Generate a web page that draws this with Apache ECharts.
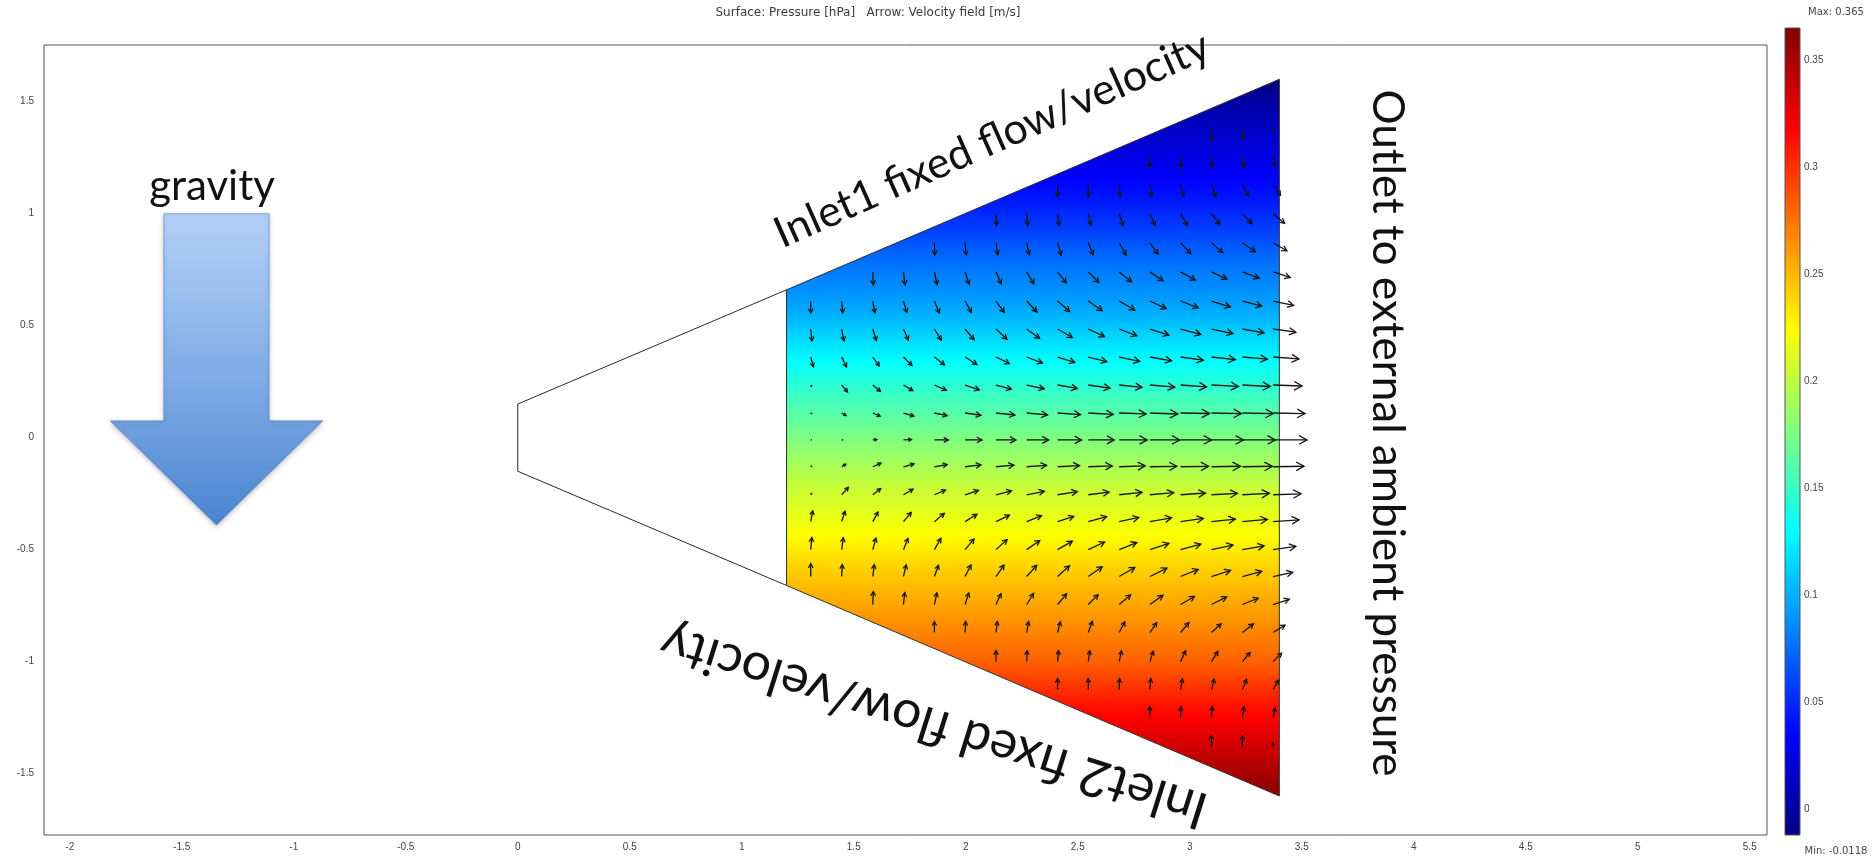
<!DOCTYPE html>
<html><head><meta charset="utf-8">
<script src="https://cdn.jsdelivr.net/npm/echarts@6/dist/echarts.min.js"></script>
<style>html,body{margin:0;padding:0;background:#fff;}#c{width:1875px;height:859px;}</style>
</head><body><div id="c"></div>
<script>
// ================= DATA =================
const titleText = 'Surface: Pressure [hPa]   Arrow: Velocity field [m/s]';
const xTickValues = [-2, -1.5, -1, -0.5, 0, 0.5, 1, 1.5, 2, 2.5, 3, 3.5, 4, 4.5, 5, 5.5];
const yTickValues = [-1.5, -1, -0.5, 0, 0.5, 1, 1.5];
const colorbarTicks = [0, 0.05, 0.1, 0.15, 0.2, 0.25, 0.3, 0.35];
const pressureMin = -0.0118;
const pressureMax = 0.365;

// nozzle geometry: stations along x and half-height of the channel there
const nozzleX = [0, 1.2, 3.4];
const nozzleHalfH = [0.15, 0.66, 1.6];

// pressure profile across the height
const profileY = [1.6, 1.4, 1.2, 1.0, 0.8, 0.6, 0.4, 0.2, 0.0, -0.2, -0.4, -0.6, -0.8, -1.0, -1.2, -1.4, -1.6];
const profileP = [-0.011, 0.012, 0.030, 0.050, 0.075, 0.094, 0.121, 0.150, 0.176, 0.201, 0.220, 0.242, 0.262, 0.282, 0.312, 0.338, 0.363];

// arrow grid
const arrowColX = [1.308, 1.446, 1.585, 1.722, 1.860, 1.997, 2.135, 2.272, 2.410, 2.547, 2.685, 2.822, 2.959, 3.097, 3.235, 3.372];
const arrowRowY = [1.385, 1.26, 1.13, 1.0, 0.87, 0.74, 0.61, 0.485, 0.36, 0.235, 0.11, -0.01, -0.13, -0.255, -0.375, -0.5, -0.62, -0.745, -0.87, -1.0, -1.125, -1.25, -1.38];
const arrowRowStart = [13, 11, 8, 6, 4, 2, 0, 0, 0, 0, 0, 0, 0, 0, 0, 0, 0, 2, 4, 6, 8, 11, 13];
// direction (deg, counter-clockwise from +x) per row
const arrowAngle = [
  [-90, -88, -85],
  [-90, -89, -86, -82, -78],
  [-90, -89, -86, -80, -75, -70, -62, -55],
  [-88, -85, -82, -77, -72, -66, -60, -53, -46, -40],
  [-88, -85, -82, -78, -74, -68, -61, -54, -47, -41, -35, -30],
  [-88, -83, -78, -72, -66, -59, -52, -45, -39, -34, -29, -25, -21, -18],
  [-90, -85, -80, -74, -68, -61, -54, -47, -41, -35, -30, -25, -21, -18, -15, -12],
  [-84, -79, -73, -66, -58, -50, -43, -36, -30, -25, -21, -18, -15, -12, -10, -8],
  [-75, -64, -54, -45, -38, -32, -26, -21, -17, -14, -12, -10, -8, -6, -5, -4],
  [-60, -50, -40, -31, -24, -19, -15, -12, -10, -8, -6, -5, -4, -3, -3, -2],
  [-40, -30, -24, -17, -12, -8, -6, -5, -4, -3, -2, -2, -1, -1, -1, -1],
  [0, 0, 5, 2, 0, 0, 0, 0, 0, 0, 0, 0, 0, 0, 0, 0],
  [40, 32, 24, 15, 10, 7, 5, 4, 3, 2, 2, 1, 1, 1, 1, 1],
  [60, 48, 38, 30, 23, 18, 14, 11, 9, 7, 6, 5, 4, 3, 3, 2],
  [80, 72, 62, 50, 40, 32, 26, 22, 18, 15, 12, 10, 8, 6, 5, 4],
  [85, 82, 75, 68, 60, 50, 42, 35, 30, 25, 22, 18, 15, 12, 10, 8],
  [90, 87, 83, 77, 70, 63, 55, 48, 42, 35, 30, 26, 22, 18, 15, 12],
  [88, 84, 78, 72, 65, 58, 50, 45, 40, 35, 30, 27, 22, 18],
  [90, 87, 83, 80, 75, 70, 62, 55, 50, 42, 38, 32],
  [90, 88, 85, 82, 78, 72, 65, 58, 50, 45],
  [90, 90, 88, 85, 80, 75, 68, 60],
  [90, 88, 86, 82, 78],
  [90, 90, 90]
];
// speed per row (relative velocity magnitude)
const arrowSpeed = [
  [13, 12, 3],
  [12, 12, 12, 12, 11],
  [12, 12, 12, 12, 12, 13, 13, 13],
  [12, 12, 12, 12, 13, 13, 14, 14, 14, 15],
  [12, 12, 12, 12, 13, 13, 14, 14, 15, 15, 16, 16],
  [13, 13, 13, 13, 13, 14, 14, 15, 16, 16, 17, 17, 18, 18],
  [12, 12, 12, 12, 13, 13, 14, 15, 16, 17, 18, 18, 19, 20, 20, 21],
  [12, 12, 12, 12, 13, 14, 15, 16, 17, 18, 19, 20, 21, 22, 22, 23],
  [10, 11, 11, 12, 13, 14, 15, 17, 18, 19, 21, 22, 23, 24, 25, 26],
  [2, 9, 10, 11, 13, 15, 16, 18, 20, 22, 23, 25, 26, 27, 28, 29],
  [1.5, 5, 8, 11, 13, 16, 19, 21, 23, 25, 27, 28, 29, 30, 31, 32],
  [1, 1.5, 4, 8, 14, 17, 20, 22, 24, 26, 28, 30, 31, 32, 33, 34],
  [1.5, 5, 9, 11, 13, 16, 18, 20, 22, 24, 26, 27, 28, 29, 30, 31],
  [2, 10, 10, 11, 12, 14, 16, 18, 20, 21, 23, 24, 25, 26, 27, 28],
  [11, 11, 11, 12, 13, 14, 15, 16, 17, 19, 20, 22, 23, 24, 25, 26],
  [12, 12, 12, 12, 13, 14, 15, 16, 17, 18, 19, 20, 21, 22, 22, 23],
  [13, 12, 12, 12, 12, 13, 14, 15, 16, 17, 18, 19, 19, 20, 20, 20],
  [13, 12, 12, 12, 12, 13, 14, 14, 15, 16, 16, 17, 17, 17],
  [11, 11, 11, 11, 11, 12, 12, 12, 13, 13, 14, 14],
  [11, 11, 11, 11, 11, 11, 12, 12, 12, 12],
  [11, 11, 11, 11, 11, 11, 11, 11],
  [11, 11, 11, 11, 10],
  [11, 11, 4]
];

// gravity block arrow outline
const gravityX = [-1.58, -1.11, -1.11, -0.87, -1.345, -1.82, -1.58];
const gravityY = [1.0, 1.0, 0.075, 0.075, -0.39, 0.075, 0.075];

// ================= STYLE / HELPERS =================
const ARROW_SCALE = 1 / 224;   // axis units per speed unit
function clamp01(v) { return Math.max(0, Math.min(1, v)); }
function jet(t) {
  t = clamp01(t);
  const r = clamp01(Math.min(4 * t - 1.5, -4 * t + 4.5));
  const g = clamp01(Math.min(4 * t - 0.5, -4 * t + 3.5));
  const b = clamp01(Math.min(4 * t + 0.5, -4 * t + 2.5));
  return 'rgb(' + Math.round(r * 255) + ',' + Math.round(g * 255) + ',' + Math.round(b * 255) + ')';
}
function pToT(p) { return (p - pressureMin) / (pressureMax - pressureMin); }
function profileAt(y) {
  for (let i = 0; i < profileY.length - 1; i++) {
    const y0 = profileY[i], y1 = profileY[i + 1];
    if (y <= y0 && y >= y1) {
      const f = (y0 - y) / (y0 - y1);
      return profileP[i] + f * (profileP[i + 1] - profileP[i]);
    }
  }
  return y > profileY[0] ? profileP[0] : profileP[profileP.length - 1];
}

const arrowData = [];
arrowRowY.forEach(function (y, r) {
  arrowAngle[r].forEach(function (a, j) {
    const s = arrowSpeed[r][j];
    const rad = a * Math.PI / 180;
    arrowData.push([arrowColX[arrowRowStart[r] + j], y, s * Math.cos(rad), s * Math.sin(rad)]);
  });
});

const chart = echarts.init(document.getElementById('c'), null, { renderer: 'canvas' });

function renderSurface(params, api) {
  const pts = [[nozzleX[1], nozzleHalfH[1]], [nozzleX[2], nozzleHalfH[2]], [nozzleX[2], -nozzleHalfH[2]], [nozzleX[1], -nozzleHalfH[1]]].map(function (p) { return api.coord(p); });
  const yTop = profileY[0], yBot = profileY[profileY.length - 1];
  const pxTop = api.coord([0, yTop])[1], pxBot = api.coord([0, yBot])[1];
  const stops = [];
  const N = 96;
  for (let i = 0; i <= N; i++) {
    const f = i / N;
    const y = yTop + f * (yBot - yTop);
    stops.push({ offset: f, color: jet(pToT(profileAt(y))) });
  }
  return {
    type: 'polygon', shape: { points: pts },
    style: { fill: { type: 'linear', x: 0, y: pxTop, x2: 0, y2: pxBot, global: true, colorStops: stops }, stroke: '#333', lineWidth: 1 }
  };
}
function renderInletPart(params, api) {
  const pts = [[nozzleX[0], nozzleHalfH[0]], [nozzleX[1], nozzleHalfH[1]], [nozzleX[1], -nozzleHalfH[1]], [nozzleX[0], -nozzleHalfH[0]]].map(function (p) { return api.coord(p); });
  return { type: 'polygon', shape: { points: pts }, style: { fill: '#ffffff', stroke: '#2a2a2a', lineWidth: 1 } };
}
function renderArrow(params, api) {
  const x = api.value(0), y = api.value(1), u = api.value(2), v = api.value(3);
  const p0 = api.coord([x, y]);
  const p1 = api.coord([x + u * ARROW_SCALE, y + v * ARROW_SCALE]);
  const dx = p1[0] - p0[0], dy = p1[1] - p0[1];
  const L = Math.hypot(dx, dy);
  const st = { stroke: '#161616', lineWidth: 1.3, fill: null };
  const ch = [{ type: 'line', shape: { x1: p0[0], y1: p0[1], x2: p1[0], y2: p1[1] }, style: st }];
  if (L > 2.5) {
    const h = Math.min(9, 1.8 + 0.25 * L);
    const ang = Math.atan2(dy, dx), w = 0.5;
    const a1 = ang + Math.PI - w, a2 = ang + Math.PI + w;
    ch.push({ type: 'polyline', shape: { points: [[p1[0] + h * Math.cos(a1), p1[1] + h * Math.sin(a1)], [p1[0], p1[1]], [p1[0] + h * Math.cos(a2), p1[1] + h * Math.sin(a2)]] }, style: st });
  } else {
    ch[0].style = { stroke: '#161616', lineWidth: 1.7, fill: null };
  }
  return { type: 'group', children: ch };
}
function renderGravity(params, api) {
  const pts = gravityX.map(function (gx, i) { return api.coord([gx, gravityY[i]]); });
  const top = api.coord([0, gravityY[0]])[1], bot = api.coord([0, gravityY[4]])[1];
  return {
    type: 'polygon', shape: { points: pts },
    style: {
      fill: { type: 'linear', x: 0, y: top, x2: 0, y2: bot, global: true,
        colorStops: [{ offset: 0, color: '#b3d0f6' }, { offset: 0.55, color: '#7eaae6' }, { offset: 1, color: '#4a84d0' }] },
      stroke: 'rgba(70,120,190,0.5)', lineWidth: 1,
      shadowBlur: 5, shadowColor: 'rgba(0,0,0,0.25)', shadowOffsetY: 2
    }
  };
}
function renderColorbar(params, api) {
  const a = api.coord([0, pressureMax]), b = api.coord([1, pressureMin]);
  const stops = [];
  for (let i = 0; i <= 40; i++) stops.push({ offset: i / 40, color: jet(1 - i / 40) });
  return {
    type: 'rect', shape: { x: a[0], y: a[1], width: b[0] - a[0], height: b[1] - a[1] },
    style: { fill: { type: 'linear', x: 0, y: 0, x2: 0, y2: 1, colorStops: stops }, stroke: '#555', lineWidth: 1 }
  };
}

const labelFont = { fontFamily: 'Liberation Sans, Arial, sans-serif', fontSize: 10, color: '#444' };
const smallFont = '"DejaVu Sans", Verdana, sans-serif';
const annFont = 'Lato, "Open Sans", sans-serif';
function txt(x, y, text, font, rot, fill) {
  return { type: 'text', x: x, y: y, z: 10, rotation: rot || 0,
    style: { text: text, font: font, fill: fill || '#111', align: 'center', verticalAlign: 'middle', textAlign: 'center', textVerticalAlign: 'middle' } };
}

const option = {
  animation: false,
  backgroundColor: '#ffffff',
  grid: [
    { left: 44, right: 108, top: 45, bottom: 24, show: true, borderColor: '#555', borderWidth: 1, backgroundColor: 'transparent' },
    { left: 1785, width: 15, top: 28, bottom: 24, show: false }
  ],
  xAxis: [
    { gridIndex: 0, type: 'value', min: -2.115, max: 5.577,
      axisLine: { show: false }, axisTick: { show: false }, splitLine: { show: false },
      axisLabel: Object.assign({ customValues: xTickValues, margin: 7, formatter: function (v) { return String(v); } }, labelFont) },
    { gridIndex: 1, type: 'value', min: 0, max: 1, show: false }
  ],
  yAxis: [
    { gridIndex: 0, type: 'value', min: -1.774, max: 1.753,
      axisLine: { show: false }, axisTick: { show: false }, splitLine: { show: false },
      axisLabel: Object.assign({ customValues: yTickValues, margin: 10, formatter: function (v) { return String(v); } }, labelFont) },
    { gridIndex: 1, type: 'value', min: pressureMin, max: pressureMax, position: 'right',
      axisLine: { show: false }, splitLine: { show: false },
      axisTick: { show: true, customValues: colorbarTicks, length: 4, lineStyle: { color: '#444' } },
      axisLabel: Object.assign({ customValues: colorbarTicks, margin: 4, formatter: function (v) { return String(v); } }, labelFont) }
  ],
  series: [
    { type: 'custom', xAxisIndex: 0, yAxisIndex: 0, z: 1, data: [[0, 0]], renderItem: renderInletPart, silent: true },
    { type: 'custom', xAxisIndex: 0, yAxisIndex: 0, z: 2, data: [[0, 0]], renderItem: renderSurface, silent: true },
    { type: 'custom', xAxisIndex: 0, yAxisIndex: 0, z: 3, data: arrowData, renderItem: renderArrow, silent: true, encode: { x: 0, y: 1 } },
    { type: 'custom', xAxisIndex: 0, yAxisIndex: 0, z: 2, data: [[0, 0]], renderItem: renderGravity, silent: true },
    { type: 'custom', xAxisIndex: 1, yAxisIndex: 1, z: 2, data: [[0, 0]], renderItem: renderColorbar, silent: true }
  ],
  graphic: [
    txt(868, 13, titleText, '12px ' + smallFont, 0, '#3c3c3c'),
    txt(1836, 12, 'Max: 0.365', '10px ' + smallFont, 0, '#444'),
    txt(1836, 851, 'Min: -0.0118', '10px ' + smallFont, 0, '#444'),
    txt(212, 186, 'gravity', '42px ' + annFont),
    txt(992, 140, 'Inlet1 fixed flow/velocity', '43px ' + annFont, 24 * Math.PI / 180),
    txt(934, 726, 'Inlet2 fixed flow/velocity', '52px ' + annFont, (180 - 17.5) * Math.PI / 180),
    txt(1387, 433, 'Outlet to external ambient pressure', '44px ' + annFont, -Math.PI / 2)
  ]
};
chart.setOption(option);
</script>
</body></html>
